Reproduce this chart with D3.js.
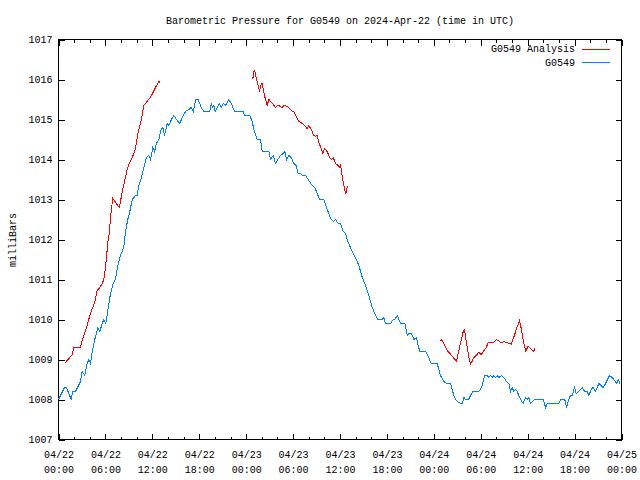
<!DOCTYPE html>
<html><head><meta charset="utf-8">
<script src="https://cdn.jsdelivr.net/npm/d3@7"></script>
<style>
body{margin:0;background:#fff}
svg{display:block}
text{font-family:"Liberation Mono","DejaVu Sans Mono",monospace;font-size:10px;fill:#000}
</style>
</head><body>
<svg id="chart" width="640" height="480"></svg>
<script>
const chartTitle = "Barometric Pressure for G0549 on 2024-Apr-22 (time in UTC)";
const yAxisLabel = "milliBars";
const seriesNames = ["G0549 Analysis", "G0549"];
const seriesColors = ["#ff0000", "#0080ff"];
const startUTC = Date.UTC(2024, 3, 22, 0, 0);
const endUTC = Date.UTC(2024, 3, 25, 0, 0);
const yTickValues = [1007,1008,1009,1010,1011,1012,1013,1014,1015,1016,1017];

// G0549 observations: hours since 2024-04-22 00:00 UTC, pressure (mb)
const stationHours = [0,0.77,1.02,1.62,1.83,2.17,2.81,3.03,3.36,3.67,3.88,4.09,4.31,4.64,5.03,5.28,5.59,5.79,6.05,6.36,6.65,7.0,7.29,7.58,7.93,8.35,8.57,8.86,9.12,9.43,9.85,10.06,10.27,10.62,10.91,11.25,11.55,11.77,12.06,12.28,12.53,12.83,13.13,13.34,13.56,13.9,14.1,14.45,14.75,15.09,15.51,15.82,16.24,16.66,16.97,17.23,17.56,17.87,18.25,18.58,19.35,19.53,19.7,19.86,20.04,20.3,20.55,20.81,21.06,21.36,21.78,22.09,22.51,23.62,23.79,24.47,24.77,24.98,25.41,25.83,26.05,26.9,27.11,27.46,27.75,28.05,28.39,28.74,28.94,29.16,29.45,29.76,30.09,30.4,30.66,30.95,31.17,31.59,31.93,32.45,32.78,33.09,33.38,33.93,34.28,34.66,34.88,35.21,35.43,35.77,36.07,36.41,36.7,37.0,37.56,37.98,38.41,38.84,39.26,39.69,40.12,40.45,40.84,41.4,41.6,41.82,42.46,42.81,43.01,43.32,43.74,44.29,44.6,44.8,45.15,45.44,45.79,46.0,46.21,46.94,47.23,47.67,48.43,48.85,49.28,49.62,50.13,50.56,50.77,51.03,51.41,51.63,51.84,52.06,52.44,52.68,52.99,53.75,54.1,54.52,54.83,55.03,55.25,55.47,55.67,55.89,56.11,56.31,56.66,56.95,57.3,57.59,57.81,58.02,58.23,58.45,58.66,59.09,59.43,59.72,59.94,60.15,60.37,60.92,62.0,62.29,62.5,63.98,64.2,64.75,64.96,65.18,65.47,65.69,65.99,66.2,66.54,66.97,67.3,67.61,67.82,68.12,68.38,68.68,69.11,69.66,69.96,70.47,70.81,71.02,71.37,71.58,71.8];
const stationValues = [1008.0,1008.3,1008.3,1008.0,1008.2,1008.2,1008.45,1008.7,1008.6,1008.9,1009.0,1008.9,1009.2,1009.5,1009.8,1009.7,1009.9,1010.0,1009.9,1010.3,1010.65,1010.9,1011.0,1011.35,1011.6,1011.8,1012.2,1012.5,1012.7,1013.0,1013.1,1013.1,1013.35,1013.55,1013.8,1014.05,1014.1,1014.0,1014.3,1014.2,1014.4,1014.5,1014.75,1014.8,1014.6,1014.9,1014.85,1015.0,1015.1,1015.0,1014.9,1015.05,1015.2,1015.25,1015.3,1015.2,1015.5,1015.5,1015.3,1015.2,1015.2,1015.4,1015.3,1015.35,1015.2,1015.3,1015.4,1015.3,1015.4,1015.35,1015.5,1015.4,1015.2,1015.2,1015.1,1015.1,1014.95,1014.75,1014.5,1014.5,1014.2,1014.2,1014.0,1014.1,1013.9,1014.0,1014.1,1014.15,1014.2,1014.0,1014.1,1014.05,1013.9,1013.85,1013.65,1013.65,1013.6,1013.6,1013.5,1013.35,1013.3,1013.15,1013.0,1013.0,1012.8,1012.6,1012.5,1012.45,1012.5,1012.4,1012.4,1012.2,1012.15,1011.95,1011.7,1011.55,1011.35,1011.06,1010.85,1010.6,1010.3,1010.15,1010.0,1010.0,1010.05,1009.9,1009.9,1010.0,1010.0,1010.1,1009.9,1009.9,1009.6,1009.65,1009.65,1009.5,1009.55,1009.35,1009.2,1009.2,1009.1,1008.9,1008.9,1008.6,1008.45,1008.4,1008.4,1008.1,1008.0,1007.95,1007.9,1007.9,1008.05,1008.0,1008.0,1008.1,1008.2,1008.2,1008.3,1008.6,1008.6,1008.55,1008.6,1008.55,1008.6,1008.55,1008.6,1008.55,1008.6,1008.55,1008.45,1008.4,1008.2,1008.3,1008.2,1008.25,1008.2,1008.0,1007.9,1008.05,1008.0,1008.05,1007.9,1008.0,1008.0,1007.8,1007.9,1007.9,1008.0,1008.0,1007.8,1007.95,1008.1,1008.1,1008.3,1008.15,1008.2,1008.3,1008.2,1008.2,1008.1,1008.25,1008.3,1008.2,1008.4,1008.3,1008.4,1008.6,1008.55,1008.5,1008.4,1008.5,1008.4];

// G0549 Analysis: hours since 2024-04-22 00:00 UTC (null = gap), pressure (mb)
const analysisHours = [0.77,1.75,1.96,2.81,3.03,3.36,3.67,4.0,4.31,4.64,4.95,5.28,5.59,5.79,6.01,6.14,6.31,6.52,6.65,6.78,6.94,7.29,7.58,7.8,8.06,8.27,8.57,8.79,9.12,9.43,9.76,9.98,10.19,10.49,10.7,10.91,11.25,11.77,12.11,12.41,12.83,12.96,
  null,
  24.85,25.03,25.19,25.32,25.54,25.71,25.92,26.05,26.26,26.47,26.69,26.9,27.24,27.75,28.05,28.61,28.9,29.45,29.8,30.09,30.44,30.73,31.17,31.5,31.81,32.01,32.32,32.65,32.87,33.09,33.29,33.6,33.8,34.02,34.36,34.66,34.91,35.13,35.43,35.77,35.94,36.07,36.28,36.49,36.62,36.74,36.92,37.05,
  null,
  48.77,48.98,49.28,49.71,50.05,50.35,50.68,50.9,51.19,51.5,51.76,51.92,52.27,52.47,52.69,52.91,53.11,53.42,53.75,54.06,54.39,54.7,54.96,55.25,55.59,56.02,56.31,56.62,56.95,57.3,57.59,57.9,58.23,58.58,58.96,59.18,59.43,59.77,60.02,60.37,60.79,60.92];
const analysisValues = [1008.9,1009.12,1009.3,1009.3,1009.48,1009.68,1009.85,1010.1,1010.27,1010.43,1010.73,1010.8,1010.9,1011.0,1011.3,1011.56,1011.93,1012.2,1012.55,1012.77,1013.03,1012.93,1012.85,1012.8,1013.1,1013.3,1013.56,1013.77,1013.93,1014.05,1014.22,1014.43,1014.68,1014.9,1015.1,1015.35,1015.43,1015.56,1015.68,1015.8,1015.96,1015.93,
  null,
  1016.02,1016.23,1016.15,1016.0,1015.85,1015.7,1015.88,1015.9,1015.68,1015.5,1015.35,1015.5,1015.43,1015.3,1015.36,1015.3,1015.36,1015.3,1015.22,1015.2,1015.06,1014.95,1014.9,1014.85,1014.77,1014.85,1014.75,1014.6,1014.58,1014.6,1014.43,1014.27,1014.16,1014.27,1014.2,1014.06,1014.0,1014.05,1013.9,1013.85,1013.8,1013.88,1013.58,1013.35,1013.22,1013.14,1013.3,1013.35,
  null,
  1009.45,1009.5,1009.39,1009.22,1009.15,1009.08,1009.0,1008.96,1009.22,1009.48,1009.7,1009.75,1009.3,1009.06,1008.88,1008.96,1009.05,1009.1,1009.18,1009.12,1009.22,1009.3,1009.43,1009.43,1009.42,1009.5,1009.46,1009.42,1009.45,1009.42,1009.41,1009.38,1009.56,1009.77,1009.98,1009.77,1009.48,1009.2,1009.33,1009.28,1009.2,1009.29];

const toDate = h => new Date(startUTC + h * 3600e3);
const stationData = stationHours.map((h, i) => ({t: toDate(h), v: stationValues[i]}));
const analysisData = analysisHours.map((h, i) => ({t: h === null ? null : toDate(h), v: analysisValues[i]}));

const L = 58.5, R = 621.5, T = 39.5, B = 439.5;
const svg = d3.select("#chart");

const x = d3.scaleUtc().domain([new Date(startUTC), new Date(endUTC)]).range([L, R]);
const y = d3.scaleLinear().domain([1007, 1017]).range([B, T]);

const majorTicks = d3.utcHour.every(6).range(new Date(startUTC), new Date(endUTC + 1));
const minorTicks = d3.utcHour.every(2).range(new Date(startUTC), new Date(endUTC + 1))
  .filter(d => d.getUTCHours() % 6 !== 0);

const crisp = g => g.attr("shape-rendering", "crispEdges").call(s => s.select(".domain").remove())
  .call(s => s.selectAll("line").attr("stroke", "#000"));

// bottom axis with two-line labels
const fmtDay = d3.utcFormat("%m/%d"), fmtTime = d3.utcFormat("%H:%M");
svg.append("g").attr("transform", `translate(0,${B})`)
  .call(d3.axisBottom(x).tickValues(majorTicks).tickSizeInner(-6).tickSizeOuter(0).tickPadding(9).tickFormat(""))
  .call(crisp)
  .call(g => g.selectAll(".tick text").attr("font-family", null).attr("font-size", null).attr("dy", null)
    .each(function(d) {
      const t = d3.select(this);
      t.append("tspan").attr("x", 0).attr("y", 18).text(fmtDay(d));
      t.append("tspan").attr("x", 0).attr("y", 33).text(fmtTime(d));
    }));
svg.append("g").attr("transform", `translate(0,${B})`)
  .call(d3.axisBottom(x).tickValues(minorTicks).tickSizeInner(-3).tickSizeOuter(0).tickFormat(""))
  .call(crisp);
// top mirror
svg.append("g").attr("transform", `translate(0,${T})`)
  .call(d3.axisTop(x).tickValues(majorTicks).tickSizeInner(-6).tickSizeOuter(0).tickFormat(""))
  .call(crisp);
svg.append("g").attr("transform", `translate(0,${T})`)
  .call(d3.axisTop(x).tickValues(minorTicks).tickSizeInner(-3).tickSizeOuter(0).tickFormat(""))
  .call(crisp);
// left / right
svg.append("g").attr("transform", `translate(${L},0)`)
  .call(d3.axisLeft(y).tickValues(yTickValues).tickSizeInner(-6).tickSizeOuter(0).tickPadding(6).tickFormat(d3.format("d")))
  .call(crisp)
  .call(g => g.selectAll(".tick text").attr("font-family", null).attr("font-size", null));
svg.append("g").attr("transform", `translate(${R},0)`)
  .call(d3.axisRight(y).tickValues(yTickValues).tickSizeInner(-6).tickSizeOuter(0).tickFormat(""))
  .call(crisp);

// frame
svg.append("rect").attr("x", L).attr("y", T).attr("width", R - L).attr("height", B - T)
  .attr("fill", "none").attr("stroke", "#000").attr("shape-rendering", "crispEdges");

// title and y label
svg.append("text").attr("x", (L + R) / 2).attr("y", 23.5).attr("text-anchor", "middle").text(chartTitle);
svg.append("text").attr("transform", "translate(15.5,240) rotate(-90)").attr("text-anchor", "middle").text(yAxisLabel);

// lines (aliased, like the original bitmap plot)
const line = d3.line().defined(d => d.t !== null && d.v !== null).x(d => x(d.t)).y(d => y(d.v));
svg.append("path").datum(analysisData).attr("d", line)
  .attr("fill", "none").attr("stroke", seriesColors[0]).attr("stroke-width", 1).attr("shape-rendering", "crispEdges");
svg.append("path").datum(stationData).attr("d", line)
  .attr("fill", "none").attr("stroke", seriesColors[1]).attr("stroke-width", 1).attr("shape-rendering", "crispEdges");

// legend
const legend = svg.append("g");
seriesNames.forEach((name, i) => {
  const ly = 48.5 + i * 13.5;
  legend.append("text").attr("x", 575).attr("y", ly).attr("dy", "0.35em").attr("text-anchor", "end").text(name);
  legend.append("line").attr("x1", 582).attr("x2", 610).attr("y1", Math.round(ly) + 0.5).attr("y2", Math.round(ly) + 0.5)
    .attr("stroke", seriesColors[i]).attr("shape-rendering", "crispEdges");
});
</script>
</body></html>
